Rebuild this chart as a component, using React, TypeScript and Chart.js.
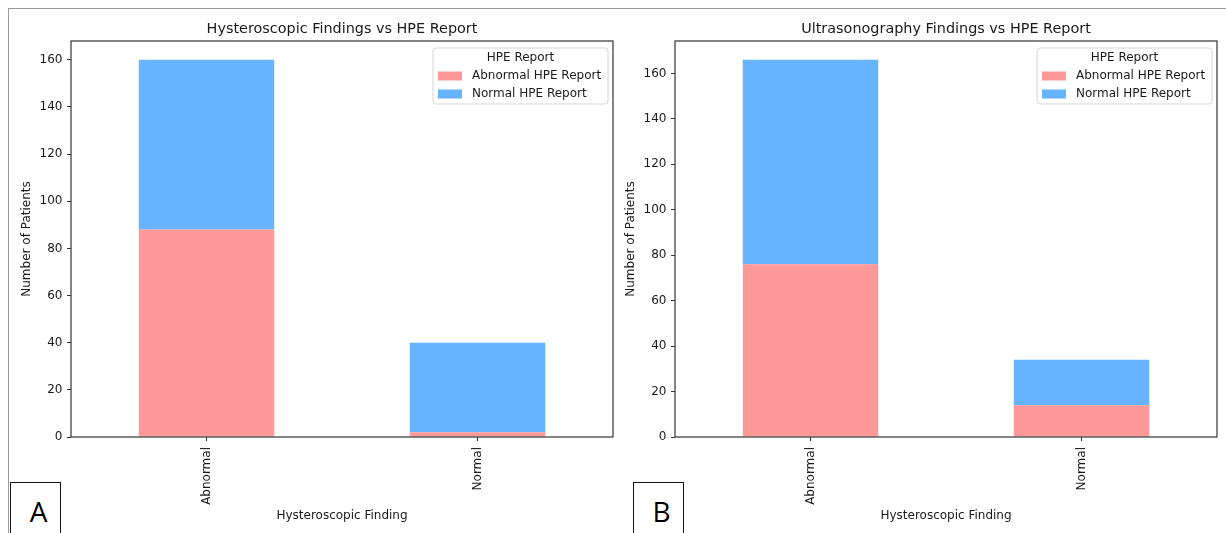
import React, { useEffect, useRef } from 'react';
import { Chart, registerables } from 'chart.js';

Chart.register(...registerables);

const categories = ['Abnormal', 'Normal'];
const seriesLabels = ['Abnormal HPE Report', 'Normal HPE Report'];
const hysteroAbnormalHPE = [88, 2];
const hysteroNormalHPE = [72, 38];
const usgAbnormalHPE = [76, 14];
const usgNormalHPE = [90, 20];
const yTickValues = [0, 20, 40, 60, 80, 100, 120, 140, 160];
const yMaxHystero = 168;
const yMaxUsg = 174.3;
const chartTitles = ['Hysteroscopic Findings vs HPE Report', 'Ultrasonography Findings vs HPE Report'];
const xAxisTitle = 'Hysteroscopic Finding';
const yAxisTitle = 'Number of Patients';
const legendTitle = 'HPE Report';
const panelLetters = ['A', 'B'];
const seriesColors = ['#ff9999', '#66b3ff'];

const FONT = '"DejaVu Sans", sans-serif';
const TEXT = '#1a1a1a';

const framePlugin = {
  id: 'frameAndLegend',
  afterDraw(chart: any, _args: any, opts: any) {
    const { ctx, chartArea: a } = chart;
    ctx.save();
    // title centred over the axes box
    ctx.font = `14.4px ${FONT}`;
    ctx.fillStyle = TEXT;
    ctx.textAlign = 'center';
    ctx.textBaseline = 'middle';
    ctx.fillText(opts.title || '', (a.left + a.right) / 2, 21.5);
    // axes box (spines)
    ctx.strokeStyle = '#333';
    ctx.lineWidth = 1.2;
    ctx.strokeRect(a.left, a.top, a.right - a.left, a.bottom - a.top);
    // legend
    const w = 175;
    const h = 56;
    const x = a.right - 5 - w;
    const y = a.top + 7;
    const r = 3;
    ctx.beginPath();
    ctx.moveTo(x + r, y);
    ctx.lineTo(x + w - r, y);
    ctx.quadraticCurveTo(x + w, y, x + w, y + r);
    ctx.lineTo(x + w, y + h - r);
    ctx.quadraticCurveTo(x + w, y + h, x + w - r, y + h);
    ctx.lineTo(x + r, y + h);
    ctx.quadraticCurveTo(x, y + h, x, y + h - r);
    ctx.lineTo(x, y + r);
    ctx.quadraticCurveTo(x, y, x + r, y);
    ctx.closePath();
    ctx.fillStyle = 'rgba(255,255,255,0.85)';
    ctx.fill();
    ctx.strokeStyle = '#d4d4d4';
    ctx.lineWidth = 1;
    ctx.stroke();
    ctx.font = `12px ${FONT}`;
    ctx.fillStyle = TEXT;
    ctx.textBaseline = 'middle';
    ctx.textAlign = 'center';
    ctx.fillText(legendTitle, x + w / 2, y + 10);
    chart.data.datasets.forEach((ds: any, i: number) => {
      const cy = y + 28 + i * 18;
      ctx.fillStyle = ds.backgroundColor;
      ctx.fillRect(x + 5, cy - 4.5, 24, 9);
      ctx.fillStyle = TEXT;
      ctx.textAlign = 'left';
      ctx.fillText(ds.label, x + 39, cy);
    });
    ctx.restore();
  },
};

function makeConfig(
  abn: number[],
  nor: number[],
  yMax: number,
  title: string,
  yTitlePad: number,
  rightPad: number,
  yAxisWidth: number
): any {
  const tickFont = { family: FONT, size: 12 };
  return {
    type: 'bar',
    data: {
      labels: categories,
      datasets: [
        { label: seriesLabels[0], data: abn, backgroundColor: seriesColors[0], categoryPercentage: 1, barPercentage: 0.5 },
        { label: seriesLabels[1], data: nor, backgroundColor: seriesColors[1], categoryPercentage: 1, barPercentage: 0.5 },
      ],
    },
    options: {
      responsive: false,
      animation: false,
      layout: { padding: { left: 0, right: rightPad, top: 33, bottom: 0 } },
      plugins: {
        legend: { display: false },
        tooltip: { enabled: false },
        title: { display: false },
        frameAndLegend: { title },
      },
      scales: {
        x: {
          stacked: true,
          grid: { display: true, drawOnChartArea: false, drawTicks: true, tickLength: 4, color: '#333', offset: false },
          border: { display: false },
          ticks: { font: tickFont, color: TEXT, minRotation: 90, maxRotation: 90, padding: 6 },
          title: { display: true, text: xAxisTitle, color: TEXT, font: tickFont, padding: { top: 0, bottom: 10.4 } },
          afterFit: (s: any) => {
            s.height = 96;
          },
        },
        y: {
          stacked: true,
          min: 0,
          max: yMax,
          grid: { display: true, drawOnChartArea: false, drawTicks: true, tickLength: 4, color: '#333' },
          border: { display: false },
          ticks: { font: tickFont, color: TEXT, padding: 4.5 },
          afterBuildTicks: (s: any) => {
            s.ticks = yTickValues.map((v) => ({ value: v }));
          },
          title: { display: true, text: yAxisTitle, color: TEXT, font: tickFont, padding: { top: yTitlePad, bottom: 0 } },
          afterFit: (s: any) => {
            s.width = yAxisWidth;
          },
        },
      },
    },
    plugins: [framePlugin],
  };
}

function LetterBox({ left, letter }: { left: number; letter: string }) {
  return (
    <div
      style={{
        position: 'fixed',
        left,
        top: 482,
        width: 51,
        height: 60,
        boxSizing: 'border-box',
        border: '1.5px solid #111',
        background: '#fff',
      }}
    >
      <span
        style={{
          position: 'absolute',
          left: 6,
          right: 0,
          top: 13.5,
          textAlign: 'center',
          fontFamily: '"Open Sans", sans-serif',
          fontSize: 28,
          lineHeight: '28px',
          color: '#000',
        }}
      >
        {letter}
      </span>
    </div>
  );
}

export default function App() {
  const refA = useRef<HTMLCanvasElement>(null);
  const refB = useRef<HTMLCanvasElement>(null);

  useEffect(() => {
    Chart.defaults.font.family = FONT;
    const cA = new Chart(refA.current!, makeConfig(hysteroAbnormalHPE, hysteroNormalHPE, yMaxHystero, chartTitles[0], 11.4, 7, 63));
    const cB = new Chart(refB.current!, makeConfig(usgAbnormalHPE, usgNormalHPE, yMaxUsg, chartTitles[1], 3.4, 9, 55));
    return () => {
      cA.destroy();
      cB.destroy();
    };
  }, []);

  return (
    <div>
      <div style={{ position: 'fixed', left: 0, top: 0, width: 1226, height: 533, background: '#fff' }} />
      <canvas
        ref={refA}
        width={612}
        height={525}
        style={{ position: 'fixed', left: 8, top: 8, width: 612, height: 525 }}
      />
      <canvas
        ref={refB}
        width={606}
        height={525}
        style={{ position: 'fixed', left: 620, top: 8, width: 606, height: 525 }}
      />
      <div style={{ position: 'fixed', left: 8, top: 8, width: 1218, height: 1, background: '#999' }} />
      <div style={{ position: 'fixed', left: 8, top: 8, width: 1, height: 525, background: '#999' }} />
      <LetterBox left={10} letter={panelLetters[0]} />
      <LetterBox left={633} letter={panelLetters[1]} />
    </div>
  );
}
